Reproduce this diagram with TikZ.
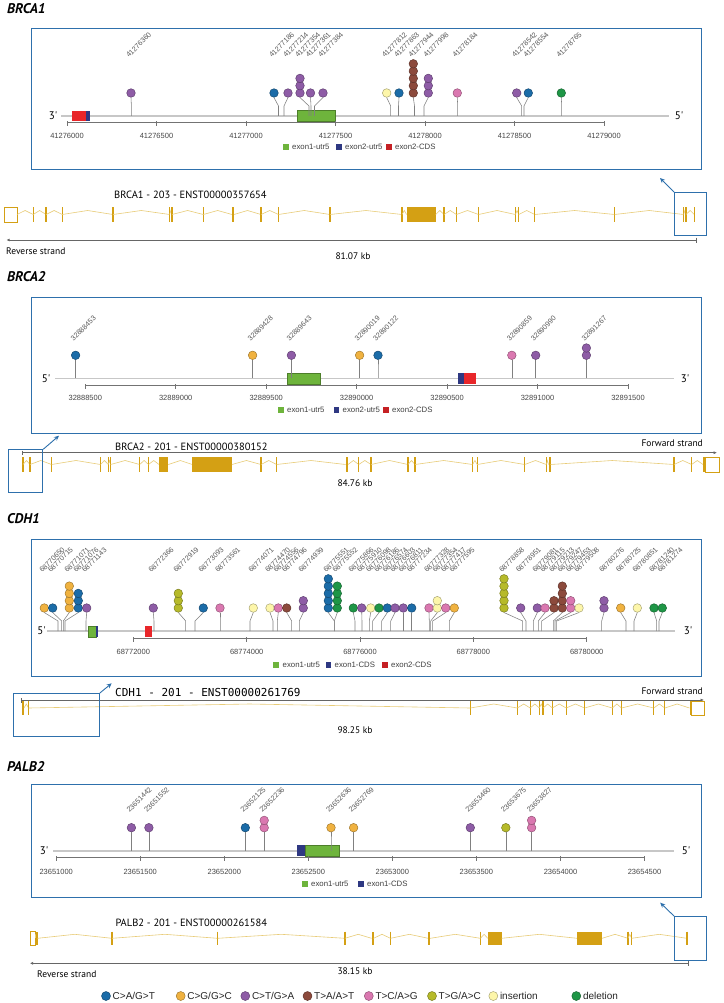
\documentclass[tikz,border=0pt]{standalone}
\usepackage{fontspec}
\setmainfont{Liberation Sans}
\newfontfamily\ptsans{PT Sans}
\newfontfamily\monof{DejaVu Sans Mono}
\usetikzlibrary{arrows.meta}
\definecolor{pblue}{RGB}{46,112,172}
\definecolor{mCA}{RGB}{27,108,168}
\definecolor{mCG}{RGB}{240,178,64}
\definecolor{mCT}{RGB}{142,92,166}
\definecolor{mTA}{RGB}{140,74,60}
\definecolor{mTC}{RGB}{218,120,176}
\definecolor{mTG}{RGB}{182,186,42}
\definecolor{mIN}{RGB}{253,246,170}
\definecolor{mDE}{RGB}{30,150,70}
\definecolor{gold}{RGB}{212,160,20}
\definecolor{goldlt}{RGB}{232,204,120}
\definecolor{fgreen}{RGB}{110,180,60}
\definecolor{fnavy}{RGB}{46,56,130}
\definecolor{fred}{RGB}{232,38,42}
\tikzset{
  panel/.style={draw=pblue, line width=1.4pt, rectangle, inner sep=0pt, anchor=north west},
  axisln/.style={draw=black!22, line width=1.6pt},
  scalebar/.style={draw=black!55, line width=0.5pt},
  stemln/.style={draw=black!50, line width=0.55pt},
  pop/.style={circle, inner sep=0pt, minimum size=8.6pt, line width=0.45pt},
  mutlbl/.style={rotate=45, anchor=base west, font=\fontsize{7.2}{7}\selectfont, text=black!65, inner sep=0pt},
  ticklbl/.style={font=\fontsize{7.5}{8}\selectfont, text=black!72, inner sep=0pt},
  legtxt/.style={font=\fontsize{7.8}{8}\selectfont, text=black!75, anchor=west, inner sep=0pt},
  legsq/.style={rectangle, minimum size=5.5pt, inner sep=0pt},
  gtitle/.style={font=\ptsans\bfseries\itshape\fontsize{14}{16}\selectfont, anchor=west, inner sep=0pt},
  tlabel/.style={font=\ptsans\fontsize{10.5}{12}\selectfont, anchor=west, inner sep=0pt},
  smalltxt/.style={font=\ptsans\fontsize{9.5}{11}\selectfont, inner sep=0pt},
  primelbl/.style={font=\ptsans\fontsize{11}{12}\selectfont, inner sep=0pt},
  zoombox/.style={draw=pblue, line width=0.9pt, rectangle, inner sep=0pt, anchor=north west},
  zoomarrow/.style={draw=pblue, line width=0.9pt, -{Stealth[length=5pt,width=4.5pt]}},
  intron/.style={draw=goldlt, line width=0.6pt},
  exonln/.style={draw=gold, line width=1.3pt},
  exonopen/.style={draw=gold, line width=0.6pt},
  kbline/.style={draw=black!60, line width=0.6pt},
  bigleg/.style={font=\fontsize{10}{12}\selectfont, anchor=west, inner sep=0pt, text=black!85},
  legdot/.style={circle, inner sep=0pt, minimum size=9pt, line width=0.45pt},
}
% lollipop: #1 axis y, #2 stem x, #3 circle x, #4 count, #5 colour, #6 label, #7 label base y
\newcommand\lollipop[7]{%
  \foreach \kk in {1,...,#4}{%
    \node[pop, fill=#5, draw=#5!65!black] (m#6x\kk) at (#3,{#1-23-(\kk-1)*7.3}) {};
  }%
  \draw[stemln] (#2,#1) -- (#2,#1-10) -- (m#6x1.south);
  \node[mutlbl] (l#6) at (#3-2,#7) {#6};
}
% gene track: #1 centre y, #2 half height, #3 list a/b/type
\newcommand\gtrack[3]{%
  \foreach \xa/\xb/\ty [remember=\xb as \xp (initially -100)] in {#3}{%
    \ifdim \xp pt > -50pt
      \draw[intron] (\xp,#1) -- ({(\xp+\xa)/2},#1-4) -- (\xa,#1);
    \fi
    \ifcase\ty
      \draw[exonln] (\xa,#1-#2) -- (\xa,#1+#2);
    \or
      \fill[gold] (\xa,#1-#2) rectangle (\xb,#1+#2);
    \or
      \draw[exonopen] (\xa,#1-#2) rectangle (\xb,#1+#2);
    \fi
  }%
}
\begin{document}
\begin{tikzpicture}[x=1pt,y=-1pt]
\useasboundingbox (0,0) rectangle (723,1003);
\fill[white] (0,0) rectangle (723,1003);

%================ BRCA1 =================
\node[gtitle] (t1) at (7,9) {BRCA1};
\node[panel, minimum width=670pt, minimum height=141pt] (pan1) at (31,28) {};
\draw[axisln] (61,116) -- (669,116);
\node[primelbl] (p1a) at (53,116) {3'};
\node[primelbl] (p1b) at (679,116) {5'};
\fill[fred] (72,111) rectangle (86,121);
\fill[fnavy] (86,111) rectangle (90,121);
\filldraw[fill=fgreen, draw=fgreen!70!black, line width=0.4pt] (297,110.5) rectangle (335,121.5);
\draw[scalebar] (67,122.5) -- (604,122.5);
\foreach \x/\t in {67/41276000,156.5/41276500,246/41277000,335.5/41277500,425/41278000,514.5/41278500,604/41279000}{
  \draw[scalebar] (\x,121.5) -- (\x,126.5);
  \node[ticklbl] at (\x,136) {\t};
}
\node[legsq, fill=fgreen] (lg1a) at (286,147) {};
\node[legtxt] at (292,147) {exon1-utr5};
\node[legsq, fill=fnavy] (lg1b) at (339,147) {};
\node[legtxt] at (345,147) {exon2-utr5};
\node[legsq, fill=fred!85!black] (lg1c) at (389,147) {};
\node[legtxt] at (395,147) {exon2-CDS};
\lollipop{116}{131.4}{131}{1}{mCT}{41276360}{58}
\lollipop{116}{278.5}{274}{1}{mCA}{41277186}{58}
\lollipop{116}{284}{288}{1}{mCT}{41277214}{58}
\lollipop{116}{309}{300}{3}{mCT}{41277354}{58}
\lollipop{116}{311}{310.5}{1}{mCT}{41277361}{58}
\lollipop{116}{314.5}{323}{1}{mCT}{41277384}{58}
\lollipop{116}{390.7}{386.7}{1}{mIN}{41277812}{58}
\lollipop{116}{398.5}{399}{1}{mCA}{41277863}{58}
\lollipop{116}{414.5}{413.3}{5}{mTA}{41277944}{58}
\lollipop{116}{424}{428.3}{3}{mCT}{41277998}{58}
\lollipop{116}{457.7}{457.3}{1}{mTC}{41278184}{58}
\lollipop{116}{521.7}{516.7}{1}{mCT}{41278542}{58}
\lollipop{116}{524}{528.3}{1}{mCA}{41278554}{58}
\lollipop{116}{561.7}{561.3}{1}{mDE}{41278765}{58}

% BRCA1 transcript
\node[tlabel] (tr1) at (114,195) {BRCA1 - 203 - ENST00000357654};
\gtrack{214.5}{7.5}{4.6/17/2, 33.2/33.2/0, 46.1/46.1/0, 62.2/62.2/0, 113/113/0, 169.7/169.7/0, 172/172/0, 203.3/203.3/0, 232/234/1, 261/261/0, 278.5/278.5/0, 330/330/0, 402/402/0, 406.6/435.7/1, 444/444/0, 456.4/456.4/0, 478.6/478.6/0, 515.4/515.4/0, 518.7/518.7/0, 534.8/534.8/0, 614.6/614.6/0, 683.7/683.7/0, 686/686/0, 694.3/694.3/0}
\node[zoombox, minimum width=32pt, minimum height=43pt] (zb1) at (674,192) {};
\coordinate (zt1) at (660,178);
\draw[zoomarrow] (zb1.north west) -- (zt1);
\coordinate (kb1a) at (6.5,240);
\coordinate (kb1b) at (696,240);
\draw[kbline, {Latex[length=3pt,width=3pt]}-] (kb1a) -- (kb1b);
\draw[kbline] (696,237.5) -- (696,242.5);
\node[smalltxt, anchor=west] (rs1) at (6,251) {Reverse strand};
\node[smalltxt] (kbt1) at (353,256) {81.07 kb};

%================ BRCA2 =================
\node[gtitle] (t2) at (7,277) {BRCA2};
\node[panel, minimum width=670pt, minimum height=136pt] (pan2) at (31,297) {};
\draw[axisln] (55,378.3) -- (674,378.3);
\node[primelbl] (p2a) at (46,378.3) {5'};
\node[primelbl] (p2b) at (685,378.3) {3'};
\filldraw[fill=fgreen, draw=fgreen!70!black, line width=0.4pt] (286.8,372.7) rectangle (320.4,384);
\fill[fnavy] (457.8,372.7) rectangle (464.3,384);
\fill[fred] (464.3,372.7) rectangle (476.3,384);
\draw[scalebar] (85.3,385) -- (628,385);
\foreach \x/\t in {85.3/32888500,175.7/32889000,266.2/32889500,356.6/32890000,447.1/32890500,537.5/32891000,628/32891500}{
  \draw[scalebar] (\x,384) -- (\x,389);
  \node[ticklbl] at (\x,398) {\t};
}
\node[legsq, fill=fgreen] (lg2a) at (281,410) {};
\node[legtxt] at (287,410) {exon1-utr5};
\node[legsq, fill=fnavy] (lg2b) at (336.6,410) {};
\node[legtxt] at (342.5,410) {exon2-utr5};
\node[legsq, fill=fred!85!black] (lg2c) at (386,410) {};
\node[legtxt] at (392,410) {exon2-CDS};
\lollipop{378.3}{75.6}{75.6}{1}{mCA}{32888453}{341.7}
\lollipop{378.3}{252.6}{252.6}{1}{mCG}{32889428}{341.7}
\lollipop{378.3}{291.4}{291.4}{1}{mCT}{32889643}{341.7}
\lollipop{378.3}{359.6}{359.6}{1}{mCG}{32890019}{341.7}
\lollipop{378.3}{378}{378}{1}{mCA}{32890122}{341.7}
\lollipop{378.3}{511.8}{511.8}{1}{mTC}{32890859}{341.7}
\lollipop{378.3}{535.7}{535.7}{1}{mCT}{32890990}{341.7}
\lollipop{378.3}{586.4}{586.4}{2}{mCT}{32891267}{341.7}

% BRCA2 transcript
\node[tlabel] (tr2) at (115,447) {BRCA2 - 201 - ENST00000380152};
\node[smalltxt, anchor=east] (fs2) at (703,443.5) {Forward strand};
\coordinate (fw2a) at (22,452.7);
\coordinate (fw2b) at (717,452.7);
\draw[kbline, -{Latex[length=3.5pt,width=3pt]}] (fw2a) -- (fw2b);
\draw[kbline] (22,450.5) -- (22,455);
\gtrack{464.5}{7.5}{23/23/0, 30/30/0, 51.6/51.6/0, 100.5/100.5/0, 108.3/108.3/0, 110.6/110.6/0, 139.7/139.7/0, 148.5/148.5/0, 159/168.3/1, 192.3/231.9/1, 261/261/0, 276.6/276.6/0, 345.5/348/1, 358.7/358.7/0, 371/371/0, 408/408/0, 415/415/0, 472.6/472.6/0, 477.2/477.2/0, 524.7/524.7/0, 546.3/546.3/0, 548.5/550.5/1, 674/674/0, 691.6/691.6/0, 703/705.5/1, 705.5/719/2}
\node[zoombox, minimum width=34pt, minimum height=42.5pt] (zb2) at (8.3,449.3) {};
\coordinate (zt2) at (59,435.7);
\draw[zoomarrow] (zb2.north east) -- (zt2);
\node[smalltxt] (kbt2) at (355,483.5) {84.76 kb};

%================ CDH1 =================
\node[gtitle] (t3) at (7,519) {CDH1};
\node[panel, minimum width=670pt, minimum height=137pt] (pan3) at (31,539) {};
\draw[axisln] (47,631) -- (675,631);
\node[primelbl] (p3a) at (41.5,631) {5'};
\node[primelbl] (p3b) at (688,631) {3'};
\filldraw[fill=fgreen, draw=fgreen!70!black, line width=0.4pt] (88.3,626) rectangle (95.7,637);
\fill[fnavy] (95.7,626) rectangle (98.3,637);
\fill[fred] (145,626) rectangle (151.7,637);
\draw[scalebar] (133.3,638.3) -- (586.7,638.3);
\foreach \x/\t in {133.3/68772000,246.7/68774000,360/68776000,473.3/68778000,586.7/68780000}{
  \draw[scalebar] (\x,637.3) -- (\x,642.3);
  \node[ticklbl] at (\x,651.5) {\t};
}
\node[legsq, fill=fgreen] (lg3a) at (276,665) {};
\node[legtxt] at (282.5,665) {exon1-utr5};
\node[legsq, fill=fnavy] (lg3b) at (328.3,665) {};
\node[legtxt] at (334.5,665) {exon1-CDS};
\node[legsq, fill=fred!85!black] (lg3c) at (385,665) {};
\node[legtxt] at (391,665) {exon2-CDS};
\lollipop{631}{58}{44.3}{1}{mCG}{68770650}{573}
\lollipop{631}{61.7}{52.7}{1}{mCA}{68770715}{573}
\lollipop{631}{63.3}{69.3}{4}{mCG}{68771071}{573}
\lollipop{631}{65}{78.3}{3}{mCA}{68771076}{573}
\lollipop{631}{86}{86.7}{1}{mCT}{68771143}{573}
\lollipop{631}{154}{153.3}{1}{mCT}{68772366}{573}
\lollipop{631}{185.7}{178.3}{3}{mTG}{68772919}{573}
\lollipop{631}{195}{203.3}{1}{mCA}{68773093}{573}
\lollipop{631}{220}{220}{1}{mTC}{68773561}{573}
\lollipop{631}{250}{253.3}{1}{mIN}{68774071}{573}
\lollipop{631}{273}{270}{1}{mIN}{68774470}{573}
\lollipop{631}{277.3}{278.3}{1}{mTC}{68774556}{573}
\lollipop{631}{291.7}{286.7}{1}{mTA}{68774796}{573}
\lollipop{631}{299.3}{303.3}{2}{mCT}{68774939}{573}
\lollipop{631}{334.3}{328.3}{5}{mCA}{68775551}{573}
\lollipop{631}{334.3}{337.3}{4}{mDE}{68775552}{573}
\lollipop{631}{355}{353.3}{1}{mDE}{68775866}{573}
\lollipop{631}{362}{361.7}{1}{mCT}{68775910}{573}
\lollipop{631}{369.3}{370.7}{1}{mIN}{68776098}{573}
\lollipop{631}{372.7}{379}{1}{mDE}{68776186}{573}
\lollipop{631}{381.7}{387.3}{1}{mCA}{68776574}{573}
\lollipop{631}{390.7}{395}{1}{mCT}{68776603}{573}
\lollipop{631}{403.3}{403.3}{1}{mCT}{68776811}{573}
\lollipop{631}{411.7}{411.7}{1}{mCA}{68777234}{573}
\lollipop{631}{429.3}{429}{1}{mTC}{68777328}{573}
\lollipop{631}{430.7}{437.3}{2}{mIN}{68777354}{573}
\lollipop{631}{432.7}{445.7}{1}{mTC}{68777417}{573}
\lollipop{631}{449.3}{454.3}{1}{mCG}{68777595}{573}
\lollipop{631}{522.7}{504}{5}{mTG}{68778858}{573}
\lollipop{631}{526}{520.7}{1}{mCT}{68778951}{573}
\lollipop{631}{533.3}{537.3}{1}{mCT}{68779081}{573}
\lollipop{631}{538.3}{545}{1}{mTC}{68779115}{573}
\lollipop{631}{541.7}{554}{2}{mTA}{68779213}{573}
\lollipop{631}{553.3}{562.3}{4}{mTA}{68779247}{573}
\lollipop{631}{555}{570.7}{2}{mTC}{68779453}{573}
\lollipop{631}{556.7}{579}{1}{mIN}{68779508}{573}
\lollipop{631}{601.7}{604}{2}{mCT}{68780276}{573}
\lollipop{631}{626}{620.7}{1}{mCG}{68780725}{573}
\lollipop{631}{634}{637.3}{1}{mIN}{68780851}{573}
\lollipop{631}{656.7}{654}{1}{mDE}{68781240}{573}
\lollipop{631}{659}{662.3}{1}{mDE}{68781274}{573}

% CDH1 transcript
\node[anchor=west, inner sep=0pt, font=\monof\fontsize{11}{12}\selectfont] (tr3) at (115,692.7) {CDH1 - 201 - ENST00000261769};
\node[smalltxt, anchor=east] (fs3) at (703,691.5) {Forward strand};
\coordinate (fw3a) at (21.7,700);
\coordinate (fw3b) at (704,700);
\draw[kbline, -{Latex[length=3.5pt,width=3pt]}] (fw3a) -- (fw3b);
\draw[kbline] (21.7,698) -- (21.7,702.5);
\gtrack{708}{7}{22/24/1, 28.6/28.6/0, 470.3/470.3/0, 517.3/517.3/0, 530.2/530.2/0, 539.4/539.4/0, 543.1/543.1/0, 552.3/552.3/0, 566.2/566.2/0, 584.6/584.6/0, 612.3/612.3/0, 621.5/621.5/0, 653.8/653.8/0, 664.8/664.8/0, 689.5/691.5/1, 691.5/704.5/2}
\node[zoombox, minimum width=86pt, minimum height=43pt] (zb3) at (13,693) {};
\coordinate (zt3) at (111.7,683.3);
\draw[zoomarrow] (zb3.north east) -- (zt3);
\node[smalltxt] (kbt3) at (355,730) {98.25 kb};

%================ PALB2 =================
\node[gtitle] (t4) at (7,767) {PALB2};
\node[panel, minimum width=670pt, minimum height=113pt] (pan4) at (31,784) {};
\draw[axisln] (53,850.7) -- (674,850.7);
\node[primelbl] (p4a) at (44,850.7) {3'};
\node[primelbl] (p4b) at (686,850.7) {5'};
\fill[fnavy] (296.5,845) rectangle (305.2,856.4);
\filldraw[fill=fgreen, draw=fgreen!70!black, line width=0.4pt] (305.2,845) rectangle (338.9,856.4);
\draw[scalebar] (56.2,857.3) -- (644.5,857.3);
\foreach \x/\t in {56.2/23651000,140.2/23651500,224.3/23652000,308.3/23652500,392.4/23653000,476.4/23653500,560.5/23654000,644.5/23654500}{
  \draw[scalebar] (\x,856.3) -- (\x,861.3);
  \node[ticklbl] at (\x,872) {\t};
}
\node[legsq, fill=fgreen] (lg4a) at (305.2,884) {};
\node[legtxt] at (311,884) {exon1-utr5};
\node[legsq, fill=fnavy] (lg4b) at (361,884) {};
\node[legtxt] at (367,884) {exon1-CDS};
\lollipop{850.7}{131.4}{131.4}{1}{mCT}{23651442}{813}
\lollipop{850.7}{148.9}{148.9}{1}{mCT}{23651552}{813}
\lollipop{850.7}{245.3}{245.3}{1}{mCA}{23652125}{813}
\lollipop{850.7}{264.2}{264.2}{2}{mTC}{23652236}{813}
\lollipop{850.7}{331}{331}{1}{mCG}{23652636}{813}
\lollipop{850.7}{353.6}{353.6}{1}{mCG}{23652769}{813}
\lollipop{850.7}{470.3}{470.3}{1}{mCT}{23653460}{813}
\lollipop{850.7}{505.8}{505.8}{1}{mTG}{23653675}{813}
\lollipop{850.7}{531.6}{531.6}{2}{mTC}{23653827}{813}

% PALB2 transcript
\node[tlabel] (tr4) at (115.3,923.3) {PALB2 - 201 - ENST00000261584};
\gtrack{938.3}{6.7}{30/35.5/2, 35.5/37.5/1, 112/112/0, 217.6/217.6/0, 344.9/344.9/0, 371.5/373.5/1, 390.5/390.5/0, 428.2/430.2/1, 480.4/480.4/0, 487.8/501.6/1, 577.2/602.1/1, 628/628/0, 631.6/631.6/0, 687/687/0}
\node[zoombox, minimum width=32.3pt, minimum height=44pt] (zb4) at (674,916) {};
\coordinate (zt4) at (660.2,902.7);
\draw[zoomarrow] (zb4.north west) -- (zt4);
\coordinate (kb4a) at (30,963.3);
\coordinate (kb4b) at (688.3,963.3);
\draw[kbline, {Latex[length=3pt,width=3pt]}-] (kb4a) -- (kb4b);
\draw[kbline] (688.3,961) -- (688.3,965.5);
\node[smalltxt, anchor=west] (rs4) at (37,974.5) {Reverse strand};
\node[smalltxt] (kbt4) at (355,971.5) {38.15 kb};

%================ bottom legend =================
\foreach \cx/\cc/\tx [count=\i] in {106/mCA/{C>A/G>T}, 180.7/mCG/{C>G/G>C}, 245.3/mCT/{C>T/G>A}, 307.5/mTA/{T>A/A>T}, 368.8/mTC/{T>C/A>G}, 432/mTG/{T>G/A>C}, 493.3/mIN/{insertion}, 576.3/mDE/{deletion}}{
  \node[legdot, fill=\cc, draw=\cc!65!black] (ld\i) at (\cx,996) {};
  \node[bigleg] (lt\i) at (\cx+6.5,996) {\tx};
}
\end{tikzpicture}
\end{document}
